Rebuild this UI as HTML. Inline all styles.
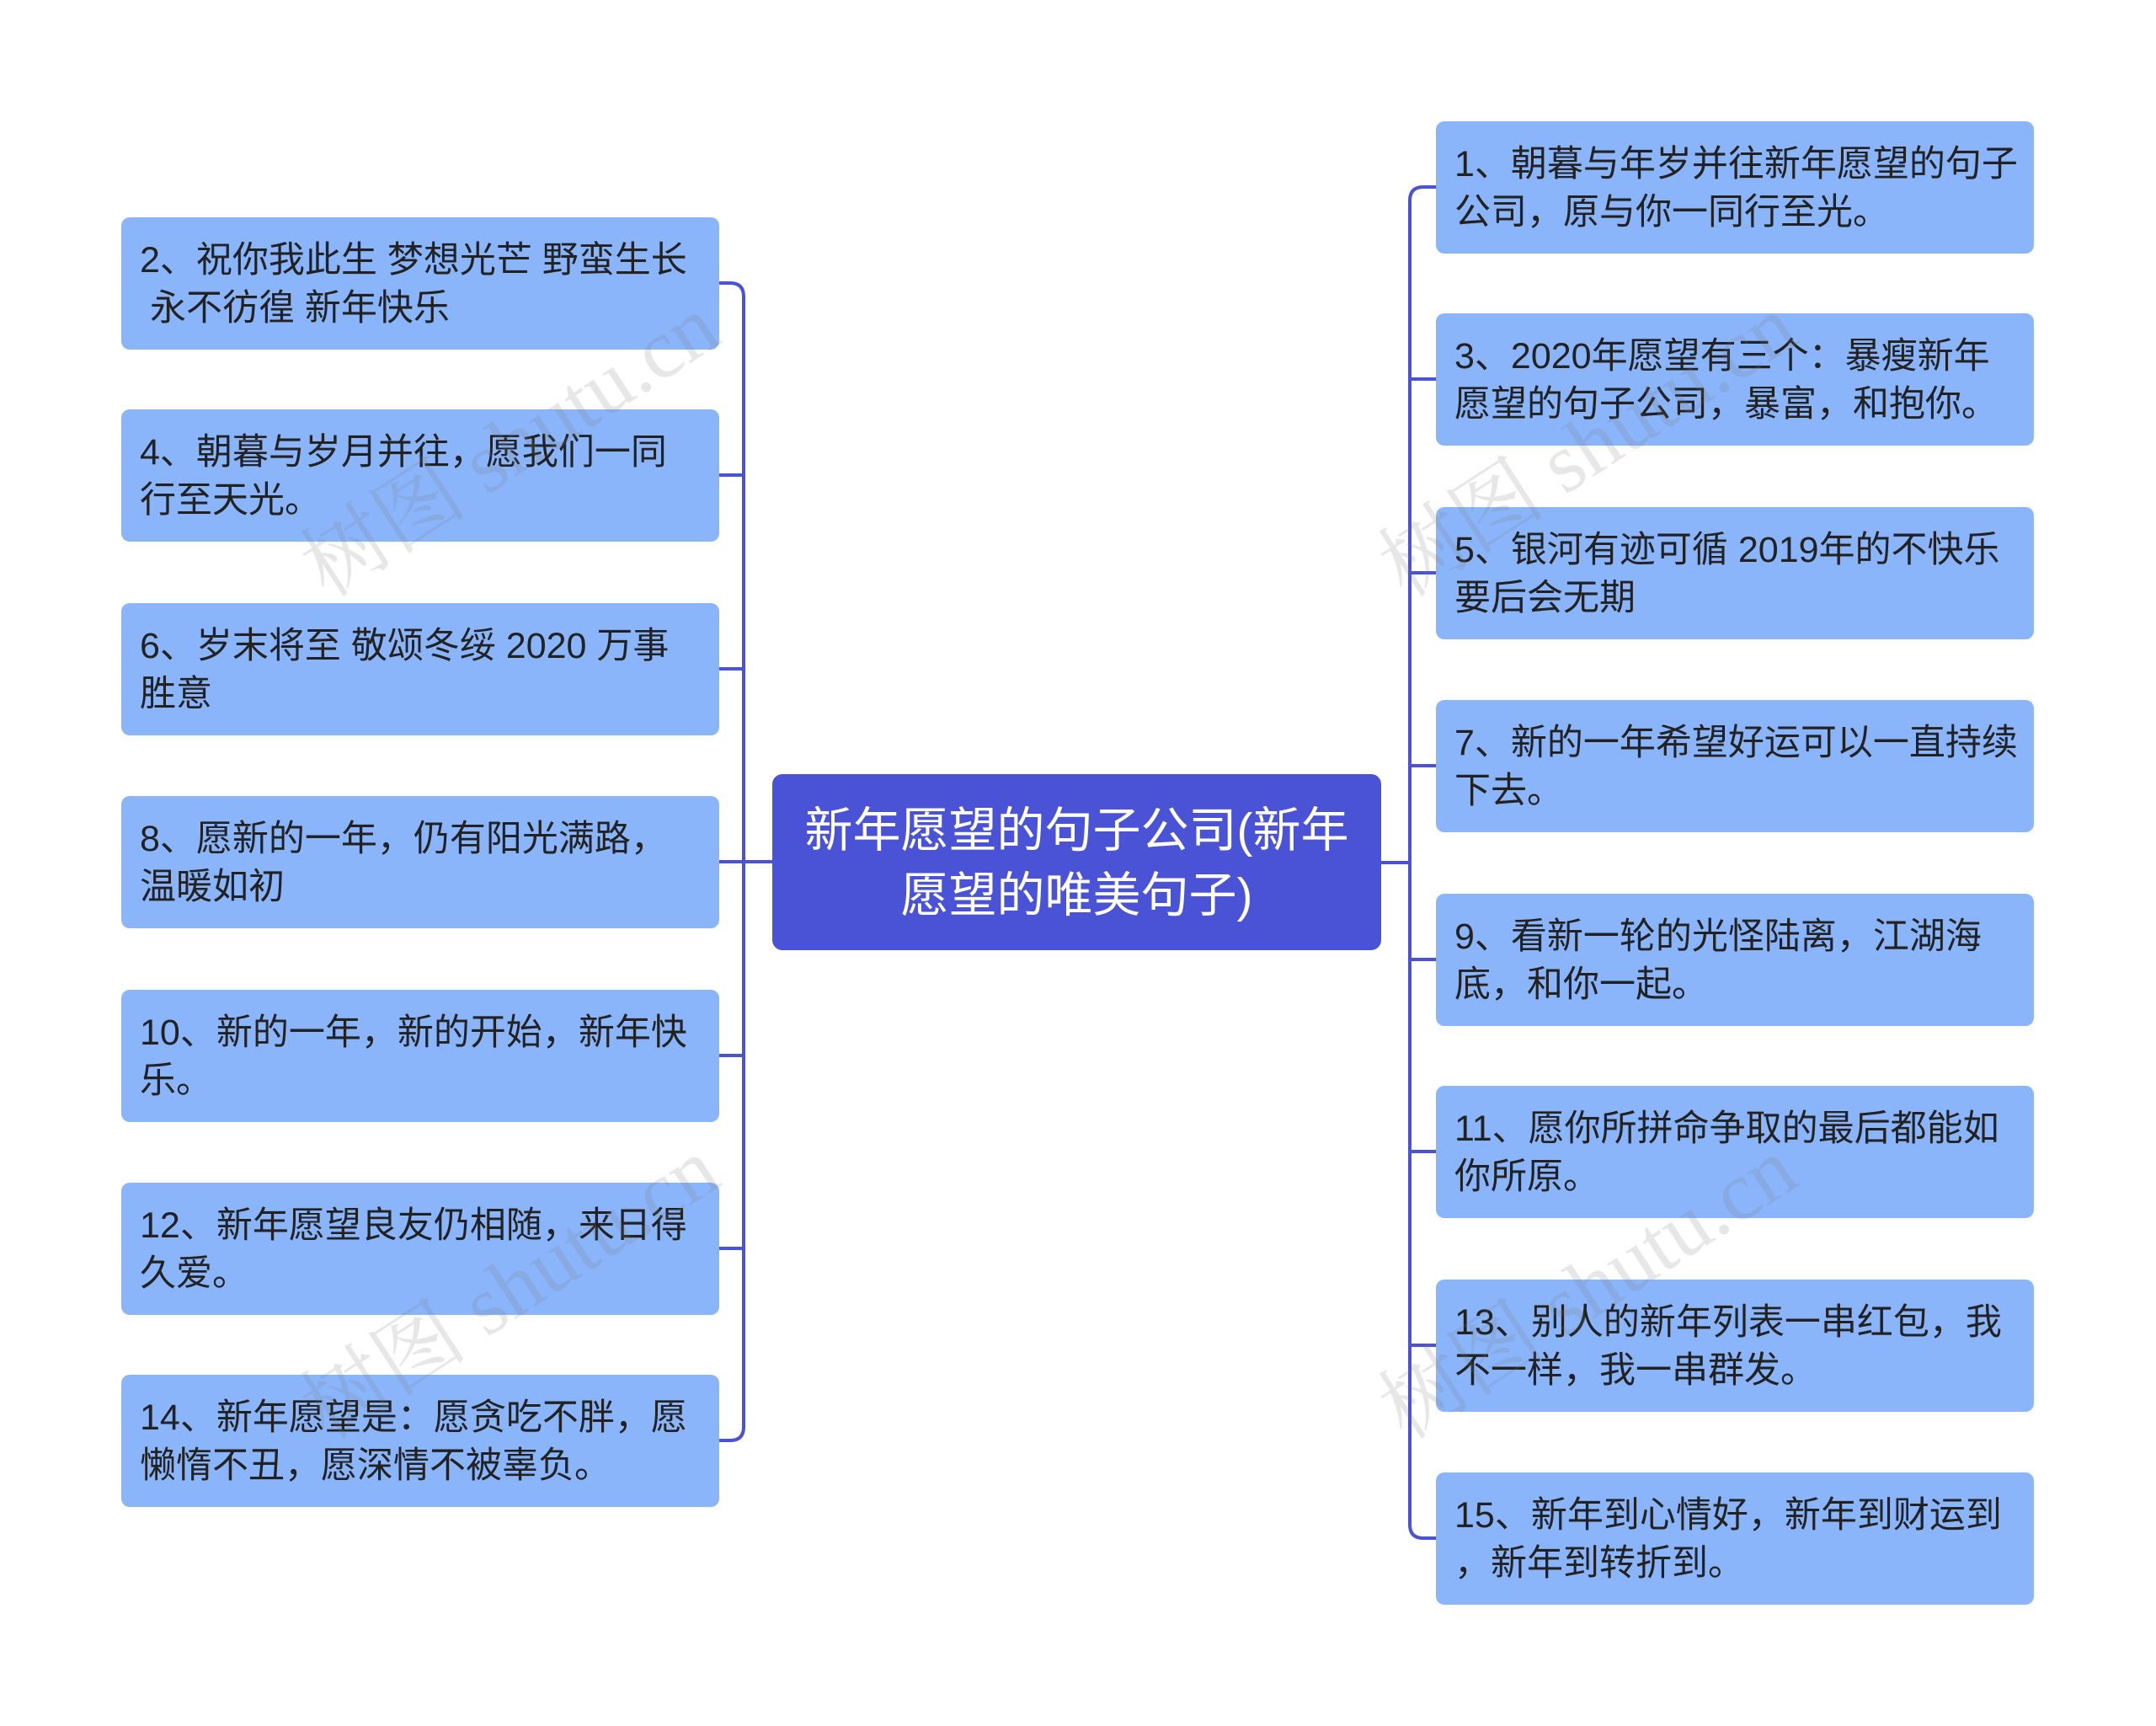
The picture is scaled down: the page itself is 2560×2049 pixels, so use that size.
<!DOCTYPE html>
<html><head><meta charset="utf-8"><style>
body{margin:0;width:2560px;height:2049px;background:#fff;position:relative;overflow:hidden;font-family:"Liberation Sans","Noto Sans CJK SC",sans-serif}
.n{position:absolute;width:710px;height:157px;background:#8bb5fb;border-radius:10px;box-sizing:border-box;padding:23px 22px;font-size:43px;line-height:57px;color:#222;white-space:nowrap}
.l{left:144px}.r{left:1705px}
.c{position:absolute;left:917px;top:919px;width:723px;height:209px;background:#4a52d6;border-radius:12px;color:#fff;font-size:57px;line-height:77px;text-align:center;box-sizing:border-box;padding-top:29px}
.w{position:absolute;font-family:"Liberation Serif","Noto Serif CJK SC",serif;font-size:100px;color:rgba(120,120,120,0.18);transform:rotate(-33deg);white-space:nowrap}
</style></head><body>
<svg width="2560" height="2049" style="position:absolute;left:0;top:0">
<g fill="none" stroke="#4a52d6" stroke-width="4">
<path d="M854 336 H867 Q883 336 883 352 V1694 Q883 1710 867 1710 H854"/>
<path d="M854 564H883M854 794H883M854 1023H917M854 1253H883M854 1482H883"/>
<path d="M1705 222 H1690 Q1674 222 1674 238 V1810 Q1674 1826 1690 1826 H1705"/>
<path d="M1674 450H1705M1674 680H1705M1674 909H1705M1674 1139H1705M1674 1367H1705M1674 1597H1705M1640 1024H1674"/>
</g></svg>
<div class="c">新年愿望的句子公司(新年<br>愿望的唯美句子)</div>
<div class="n l" style="top:258px">2、祝你我此生 梦想光芒 野蛮生长<br>&nbsp;永不彷徨 新年快乐</div>
<div class="n l" style="top:486px">4、朝暮与岁月并往，愿我们一同<br>行至天光。</div>
<div class="n l" style="top:716px">6、岁末将至 敬颂冬绥 2020 万事<br>胜意</div>
<div class="n l" style="top:945px">8、愿新的一年，仍有阳光满路，<br>温暖如初</div>
<div class="n l" style="top:1175px">10、新的一年，新的开始，新年快<br>乐。</div>
<div class="n l" style="top:1404px">12、新年愿望良友仍相随，来日得<br>久爱。</div>
<div class="n l" style="top:1632px">14、新年愿望是：愿贪吃不胖，愿<br>懒惰不丑，愿深情不被辜负。</div>
<div class="n r" style="top:144px">1、朝暮与年岁并往新年愿望的句子<br>公司，原与你一同行至光。</div>
<div class="n r" style="top:372px">3、2020年愿望有三个：暴瘦新年<br>愿望的句子公司，暴富，和抱你。</div>
<div class="n r" style="top:602px">5、银河有迹可循 2019年的不快乐<br>要后会无期</div>
<div class="n r" style="top:831px">7、新的一年希望好运可以一直持续<br>下去。</div>
<div class="n r" style="top:1061px">9、看新一轮的光怪陆离，江湖海<br>底，和你一起。</div>
<div class="n r" style="top:1289px">11、愿你所拼命争取的最后都能如<br>你所原。</div>
<div class="n r" style="top:1519px">13、别人的新年列表一串红包，我<br>不一样，我一串群发。</div>
<div class="n r" style="top:1748px">15、新年到心情好，新年到财运到<br>，新年到转折到。</div>
<div class="w" style="left:320px;top:450px">树图 shutu.cn</div>
<div class="w" style="left:320px;top:1450px">树图 shutu.cn</div>
<div class="w" style="left:1600px;top:450px">树图 shutu.cn</div>
<div class="w" style="left:1600px;top:1450px">树图 shutu.cn</div>
</body></html>
